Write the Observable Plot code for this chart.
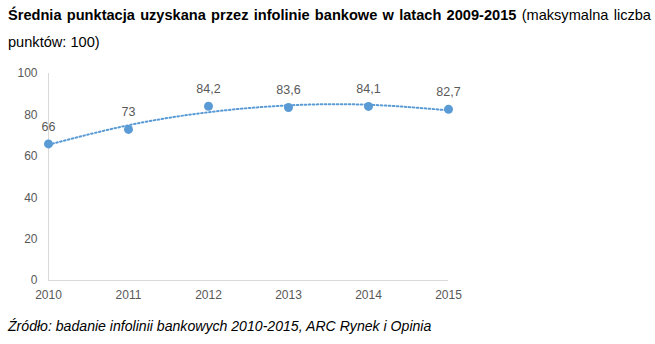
<!DOCTYPE html>
<html><head><meta charset="utf-8">
<script src="https://cdn.jsdelivr.net/npm/d3@7"></script>
<script src="https://cdn.jsdelivr.net/npm/@observablehq/plot@0.6"></script>
<style>
body{margin:0;background:#fff;font-family:"Liberation Sans",Arial,sans-serif;}
#title{box-sizing:border-box;width:655px;height:56px;padding:2px 4px 0 8px;font-size:14.6px;line-height:27px;color:#000;text-align:justify;}
#title b{font-weight:bold;}
#caption{margin:7px 0 0 8px;font-size:14.1px;font-style:italic;color:#000;line-height:16px;}
</style></head>
<body>
<div id="title"><b>Średnia punktacja uzyskana przez infolinie bankowe w latach 2009-2015</b> (maksymalna liczba punktów: 100)</div>
<div id="chart"></div>
<div id="caption">Źródło: badanie infolinii bankowych 2010-2015, ARC Rynek i Opinia</div>
<script>
const years = [2010, 2011, 2012, 2013, 2014, 2015];
const scores = [66, 73, 84.2, 83.6, 84.1, 82.7];
const trend = [65.6, 75.0, 81.3, 84.6, 84.9, 82.2];
const yTicks = [0, 20, 40, 60, 80, 100];

const data = years.map((y, i) => ({year: y, score: scores[i], trend: trend[i]}));
const fmt = v => String(v).replace(".", ",");
const blue = "#5b9bd5";

const chart = Plot.plot({
  width: 655,
  height: 255,
  marginLeft: 48,
  marginRight: 207,
  marginTop: 17,
  marginBottom: 31,
  style: {fontFamily: "'Liberation Sans', Arial, sans-serif", fontSize: "12px", color: "#595959"},
  x: {domain: [2010, 2015], ticks: years, tickFormat: "d", tickSize: 0, tickPadding: 10, label: null},
  y: {domain: [0, 100], ticks: yTicks, tickSize: 0, tickPadding: 11, label: null},
  marks: [
    Plot.ruleX([2010], {stroke: "#d9d9d9", strokeWidth: 1}),
    Plot.ruleY([0], {stroke: "#d9d9d9", strokeWidth: 1}),
    Plot.line(data, {x: "year", y: "trend", curve: "natural", stroke: blue, strokeWidth: 2, strokeDasharray: "1.6,2.4"}),
    Plot.dot(data, {x: "year", y: "score", r: 4.5, fill: blue, stroke: "none"}),
    Plot.text(data, {x: "year", y: "score", text: d => fmt(d.score), dy: -17, fill: "#595959", fontSize: 12.5})
  ]
});
document.getElementById("chart").appendChild(chart);
</script>
</body></html>
